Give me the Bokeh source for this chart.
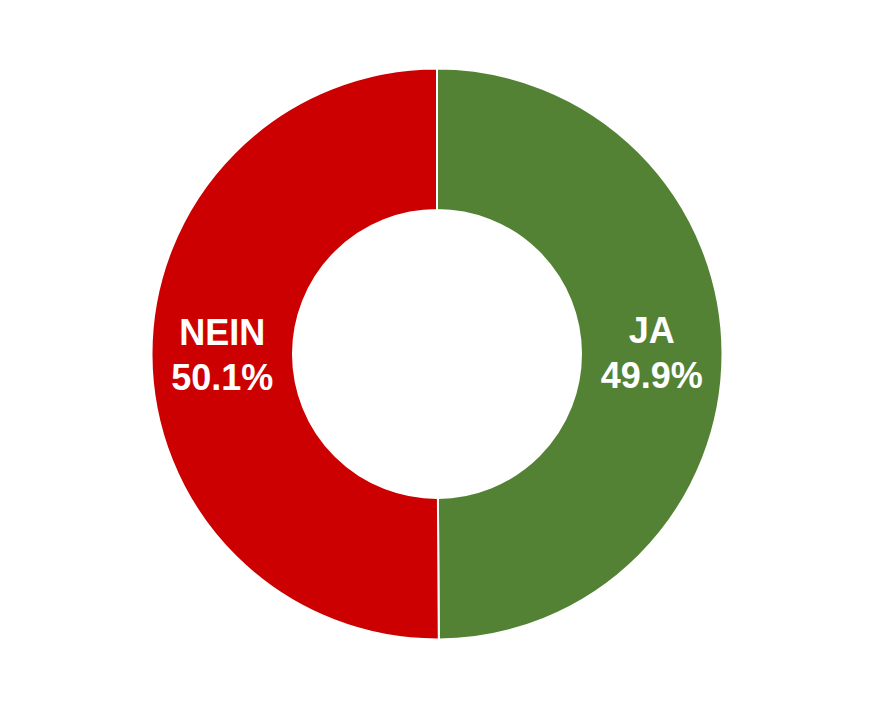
import numpy as np
from bokeh.plotting import figure
from bokeh.models import Range1d, ColumnDataSource
from bokeh.core.properties import value
from bokeh.embed import file_html
from bokeh.resources import INLINE

labels = ["JA", "NEIN"]
shares = [49.9, 50.1]
colors = ["#548235", "#CC0000"]

W, H = 857, 692
cx, cy = 436.5, 338.5
r_out, r_in = 285.5, 144.0

frac = np.array(shares) / sum(shares)
cum = np.concatenate([[0], np.cumsum(frac)])
start = np.pi / 2 - 2 * np.pi * cum[:-1]
end = np.pi / 2 - 2 * np.pi * cum[1:]
mid = (start + end) / 2
r_mid = (r_out + r_in) / 2

src = ColumnDataSource(dict(
    x=[cx] * len(labels), y=[cy] * len(labels),
    start=start, end=end, color=colors,
    lx=cx + r_mid * np.cos(mid), ly=cy + r_mid * np.sin(mid),
    name=labels, pct=[f"{s:.1f}%" for s in shares],
))

p = figure(width=W, height=H, output_backend="svg", toolbar_location=None,
           x_range=Range1d(0, W), y_range=Range1d(0, H), min_border=0)
p.axis.visible = False
p.grid.visible = False
p.outline_line_color = None

p.annular_wedge(x="x", y="y", inner_radius=r_in, outer_radius=r_out,
                start_angle="start", end_angle="end", direction="clock",
                fill_color="color", line_color="white", line_width=2, source=src)

for col, off in (("name", -22.5), ("pct", 22.5)):
    p.text(x="lx", y="ly", text=col, source=src, y_offset=off,
           text_color="white", text_font=value("Liberation Sans"), text_font_style="bold",
           text_font_size="36px", text_align="center", text_baseline="middle")

open("out.html", "w").write(file_html(p, INLINE))
